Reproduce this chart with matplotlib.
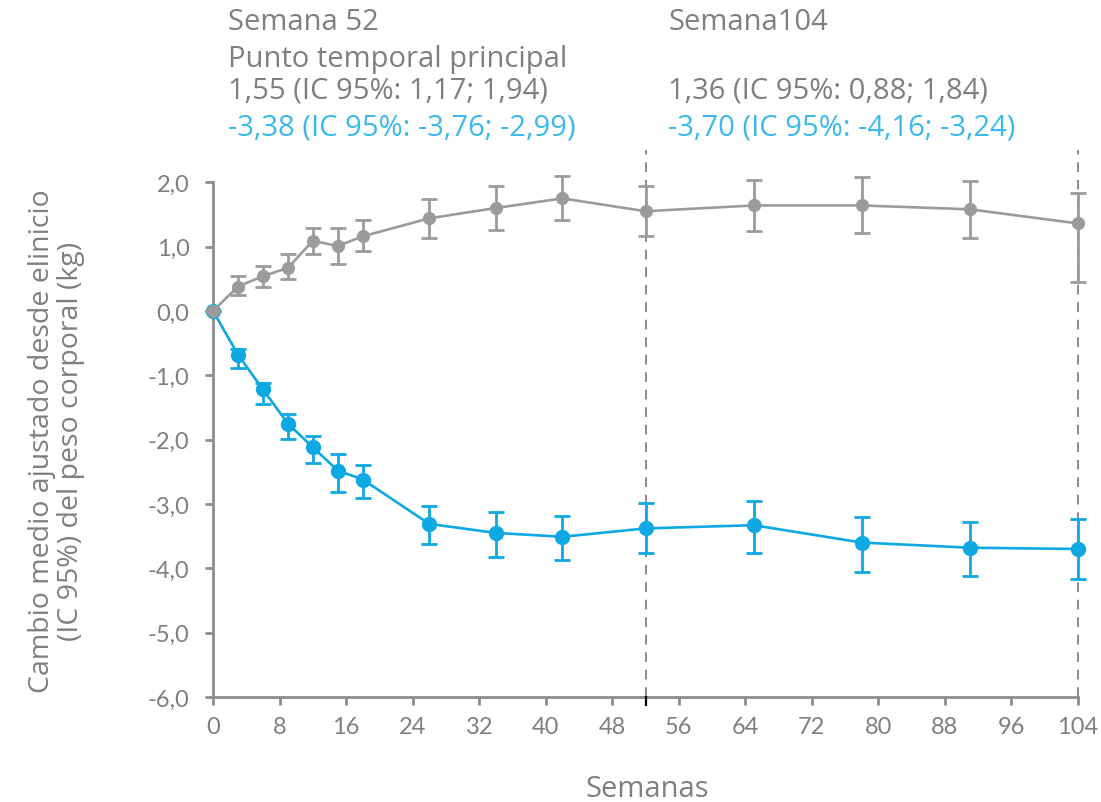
import matplotlib
matplotlib.use("Agg")
import matplotlib.pyplot as plt

plt.rcParams['font.family'] = ['Open Sans', 'DejaVu Sans']

# Weeks of measurement
weeks = [0, 3, 6, 9, 12, 15, 18, 26, 34, 42, 52, 65, 78, 91, 104]

# Grey series: mean change and 95% CI bounds (kg)
grey_mean = [0.00, 0.38, 0.54, 0.67, 1.09, 1.01, 1.16, 1.44, 1.60, 1.75, 1.55, 1.64, 1.64, 1.58, 1.36]
grey_low  = [0.00, 0.25, 0.38, 0.50, 0.88, 0.73, 0.93, 1.14, 1.26, 1.41, 1.17, 1.24, 1.21, 1.13, 0.45]
grey_high = [0.00, 0.55, 0.70, 0.88, 1.29, 1.29, 1.42, 1.74, 1.95, 2.10, 1.94, 2.04, 2.08, 2.02, 1.84]

# Blue series: mean change and 95% CI bounds (kg)
blue_mean = [0.00, -0.68, -1.22, -1.75, -2.12, -2.48, -2.62, -3.31, -3.45, -3.51, -3.38, -3.33, -3.60, -3.68, -3.70]
blue_low  = [0.00, -0.89, -1.44, -1.99, -2.37, -2.81, -2.90, -3.63, -3.82, -3.87, -3.76, -3.76, -4.06, -4.12, -4.16]
blue_high = [0.00, -0.59, -1.12, -1.60, -1.95, -2.23, -2.40, -3.03, -3.13, -3.18, -2.99, -2.96, -3.20, -3.28, -3.24]

x_ticks = [0, 8, 16, 24, 32, 40, 48, 56, 64, 72, 80, 88, 96, 104]
y_ticks = [2.0, 1.0, 0.0, -1.0, -2.0, -3.0, -4.0, -5.0, -6.0]
marker_weeks = [52, 104]

GREY = '#9b9b9b'
BLUE = '#0ea8e2'
TEXT_GREY = '#7f7f7f'
TEXT_BLUE = '#3ab9ea'
AXIS = '#8c8c8c'

fig = plt.figure(figsize=(11.01, 8.03), dpi=100)
ax = fig.add_axes([0.1935, 0.1308, 0.7856, 0.681])

def draw_series(mean, low, high, color, ms, cap, z):
    yerr = [[m - l for m, l in zip(mean, low)], [h - m for m, h in zip(mean, high)]]
    eb = ax.errorbar(weeks, mean, yerr=yerr, color=color, marker='o', markersize=ms,
                     linewidth=1.9, elinewidth=2.0, capsize=cap, capthick=2.0, zorder=z)
    line, caps, bars = eb.lines
    for artist in [line] + list(caps) + list(bars):
        if artist is not None:
            artist.set_clip_on(False)

draw_series(blue_mean, blue_low, blue_high, BLUE, 10, 6, 3)
draw_series(grey_mean, grey_low, grey_high, GREY, 8.5, 5.5, 4)

for w in marker_weeks:
    ax.axvline(w, color='#8a8a8a', linestyle=(0, (5, 4)), linewidth=1.4, zorder=1, clip_on=False)
ax.plot([52, 52], [-6.0, -6.12], color='black', linewidth=1.6, clip_on=False, zorder=5)

ax.set_xlim(0, 104)
ax.set_ylim(-6.0, 2.5)
ax.set_xticks(x_ticks)
ax.set_xticklabels([str(t) for t in x_ticks], family=['Lato', 'DejaVu Sans'])
ax.set_yticks(y_ticks)
ax.set_yticklabels([f"{t:.1f}".replace('.', ',') for t in y_ticks], family=['Lato', 'DejaVu Sans'])

for side in ['top', 'right']:
    ax.spines[side].set_visible(False)
ax.spines['left'].set_bounds(-6.0, 2.0)
for side in ['left', 'bottom']:
    ax.spines[side].set_color(AXIS)
    ax.spines[side].set_linewidth(2.0)
ax.tick_params(axis='both', colors=AXIS, labelcolor=TEXT_GREY, labelsize=17,
               length=6, width=2.0)
ax.tick_params(axis='y', pad=11)
ax.tick_params(axis='x', pad=8)

fig.text(647 / 1101, 1 - 790 / 803, 'Semanas', fontsize=21, color=TEXT_GREY,
         ha='center', va='center')
fig.text(0.0515, 1 - 441 / 803, 'Cambio medio ajustado desde elinicio\n(IC 95%) del peso corporal (kg)',
         rotation=90, ha='center', va='center', fontsize=20.5, color=TEXT_GREY, linespacing=1.05)

# Summary statistics above the plot
left_x = 228 / 1101
right_x = 668 / 1101
rows_y = [1 - 22 / 803, 1 - 59 / 803, 1 - 91 / 803, 1 - 128 / 803]
fs = 21
fig.text(left_x, rows_y[0], 'Semana 52', fontsize=fs, color=TEXT_GREY, va='center')
fig.text(left_x, rows_y[1], 'Punto temporal principal', fontsize=fs, color=TEXT_GREY, va='center')
fig.text(left_x, rows_y[2], '1,55 (IC 95%: 1,17; 1,94)', fontsize=fs, color=TEXT_GREY, va='center')
fig.text(left_x, rows_y[3], '-3,38 (IC 95%: -3,76; -2,99)', fontsize=fs, color=TEXT_BLUE, va='center')
fig.text(right_x, rows_y[0], 'Semana104', fontsize=fs, color=TEXT_GREY, va='center')
fig.text(right_x, rows_y[2], '1,36 (IC 95%: 0,88; 1,84)', fontsize=fs, color=TEXT_GREY, va='center')
fig.text(right_x, rows_y[3], '-3,70 (IC 95%: -4,16; -3,24)', fontsize=fs, color=TEXT_BLUE, va='center')

fig.savefig('out.png', dpi=100)
